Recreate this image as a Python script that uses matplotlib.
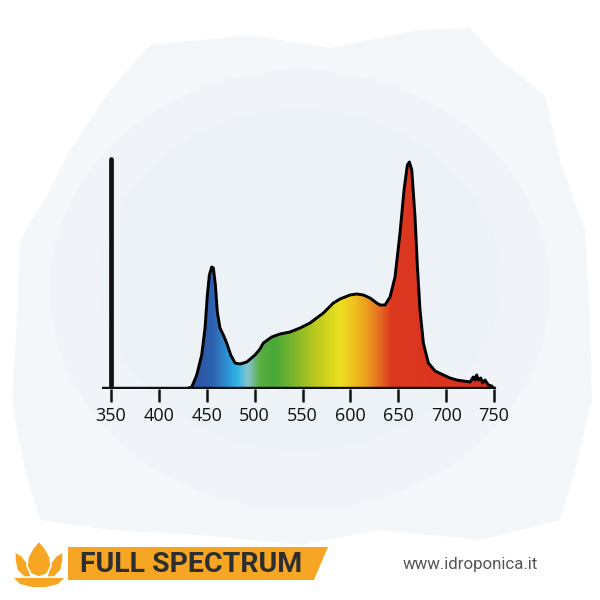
"""
plot.py - LED full spectrum chart (idroponica style).

Writes: out.png
"""
import numpy as np
import matplotlib
matplotlib.use("Agg")
import matplotlib.pyplot as plt
from matplotlib.colors import LinearSegmentedColormap
from matplotlib.patches import Polygon, Ellipse

# Spectrum (wavelength nm, relative height)
wavelength = [350, 385, 420, 428, 434.3, 439.5, 444.7, 448.2, 450.6, 452.7, 455.2,
              456.9, 459.0, 461.0, 463.8, 467.3, 470.8, 475.0, 479.5, 484.7, 491.7,
              500.4, 505.6, 509.1, 517.8, 526.5, 536.9, 547.4, 557.8, 571.8, 582.2,
              589.2, 599.6, 606.6, 613.5, 620.5, 627.5, 631.0, 636.2, 641.4, 646.6,
              651.8, 656.0, 659.5, 661.6, 664.1, 667.5, 670.0, 672.7, 676.2, 681.4,
              688.4, 697.1, 704.1, 711.0, 718.0, 725.0, 728.4, 730.2, 731.9, 733.6,
              736.1, 738.2, 740.6, 744.1, 747.6, 750.4]
intensity = [0, 0, 0, 0, 2, 14, 34, 61, 94, 114, 122,
             121, 104, 77, 61, 54, 46, 34, 26, 25, 27,
             34, 40, 46, 52, 55, 57, 61, 66, 76, 86,
             90, 94, 95, 94, 91, 86, 84, 84, 92, 112,
             156, 199, 224, 227, 219, 172, 122, 79, 46, 26,
             18, 14, 11, 9, 8, 7, 12, 9, 14, 9,
             11, 6, 9, 4, 3, 0]

tick_values = [350, 400, 450, 500, 550, 600, 650, 700, 750]
title_text = "FULL SPECTRUM"
site_text = "www.idroponica.it"

# colour stops of the visible spectrum fill
stops = [(430, "#2a4c9c"), (455, "#2e62b0"), (470, "#2f8fd2"), (480, "#2bb3e6"),
         (492, "#86c4cf"), (505, "#57ae3f"), (520, "#4aa83a"), (540, "#7db52d"),
         (562, "#b9c81e"), (588, "#ece120"), (603, "#f1c11e"), (617, "#eb9c1f"),
         (632, "#e4641f"), (642, "#dc3820"), (750, "#d9301f")]

ORANGE = "#f6a623"


def main():
    fig = plt.figure(figsize=(6, 6), dpi=100)
    fig.patch.set_facecolor("white")

    # background layer in pixel coordinates
    bg = fig.add_axes([0, 0, 1, 1], zorder=0)
    bg.set_xlim(0, 600)
    bg.set_ylim(600, 0)
    bg.axis("off")

    blob = [(150, 45), (250, 35), (330, 48), (420, 30), (470, 28), (500, 60),
            (545, 95), (560, 160), (585, 230), (590, 320), (592, 400), (575, 470),
            (560, 520), (480, 540), (380, 530), (300, 545), (200, 535), (110, 530),
            (40, 520), (25, 470), (12, 400), (18, 300), (20, 240), (50, 190),
            (70, 150), (110, 90)]
    bg.add_patch(Polygon(blob, closed=True, facecolor="#f4f7fa", edgecolor="none"))
    bg.add_patch(Ellipse((300, 290), 500, 440, facecolor="#eff3f8", edgecolor="none", alpha=0.8))
    bg.add_patch(Ellipse((300, 280), 400, 340, facecolor="#edf2f7", edgecolor="none", alpha=0.8))

    # banner: bar, lotus and texts
    bar = [(68, 547), (328, 547), (314, 580), (68, 580)]
    bg.add_patch(Polygon(bar, closed=True, facecolor=ORANGE, edgecolor="none"))
    bg.text(80, 564, title_text, fontsize=20.5, fontweight="bold", color="#2e2e2e",
            family="Roboto", va="center", ha="left")
    bg.text(403, 565, site_text, fontsize=12.2, color="#555555",
            family="Roboto", va="center", ha="left")

    # lotus icon
    cx = 39
    verts = [(cx, 541), (cx + 6, 548), (cx + 11, 557), (cx + 12, 566), (cx + 8, 574),
             (cx, 577), (cx - 8, 574), (cx - 12, 566), (cx - 11, 557), (cx - 6, 548), (cx, 541)]
    bg.add_patch(Polygon(verts, closed=True, facecolor=ORANGE, edgecolor="white",
                         lw=1.2, zorder=3))
    left_petal = [(15, 552), (22, 556), (28, 564), (31, 577), (24, 577), (17, 570), (15, 560)]
    right_petal = [(2 * cx - x, y) for x, y in left_petal]
    for pet in (left_petal, right_petal):
        bg.add_patch(Polygon(pet, closed=True, facecolor=ORANGE, edgecolor="white",
                             lw=1.0, zorder=2))
    base = [(14, 578), (64, 578), (58, 584), (46, 587), (32, 587), (20, 584)]
    bg.add_patch(Polygon(base, closed=True, facecolor=ORANGE, edgecolor="none", zorder=2))

    # spectrum axes
    ax = fig.add_axes([102.4 / 600, 1 - 389 / 600, 394.5 / 600, 232 / 600], zorder=2)
    ax.patch.set_alpha(0)
    ax.set_xlim(341, 753)
    ax.set_ylim(0, 232)
    for s in ax.spines.values():
        s.set_visible(False)

    cmap = LinearSegmentedColormap.from_list(
        "spec", [((w - 430) / (750 - 430), c) for w, c in stops])
    grad = np.linspace(0, 1, 512).reshape(1, -1)
    img = ax.imshow(grad, cmap=cmap, aspect="auto", extent=(430, 750, 0, 232),
                    interpolation="bilinear", zorder=1)
    poly = Polygon(list(zip(wavelength, intensity)) + [(750.4, 0), (350, 0)],
                   closed=True, facecolor="none", edgecolor="none")
    ax.add_patch(poly)
    img.set_clip_path(poly)

    ax.plot(wavelength, intensity, color="black", lw=2.1, zorder=3,
            solid_joinstyle="round")
    # axes lines
    ax.plot([341, 752], [0, 0], color="#111111", lw=3.2, zorder=4, solid_capstyle="butt")
    ax.plot([350, 350], [0, 230], color="#111111", lw=3.4, zorder=4, solid_capstyle="round")

    ax.set_yticks([])
    ax.set_xticks(tick_values)
    ax.set_xticklabels([str(v) for v in tick_values])
    ax.tick_params(axis="x", direction="out", length=9.5, width=1.8, color="#111111",
                   pad=3.5, labelsize=13, labelcolor="#111111")
    for lab in ax.get_xticklabels():
        lab.set_family("Open Sans")

    fig.savefig("out.png", dpi=100)
    plt.close(fig)


if __name__ == "__main__":
    main()
